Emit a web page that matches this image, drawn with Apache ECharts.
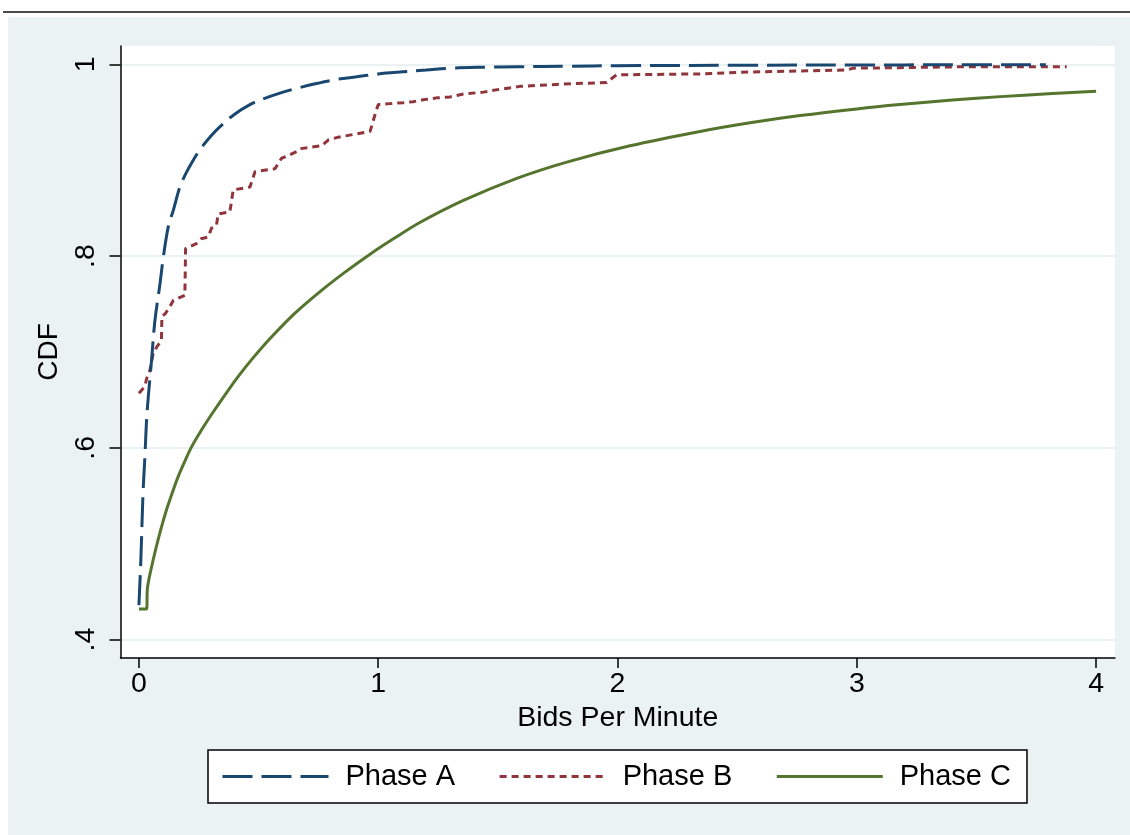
<!DOCTYPE html>
<html>
<head>
<meta charset="utf-8">
<script src="https://cdn.jsdelivr.net/npm/echarts@6/dist/echarts.min.js"></script>
<style>
  html, body { margin: 0; padding: 0; background: #fff; }
  #wrap { position: relative; width: 1130px; height: 835px; overflow: hidden; }
  #rule { position: absolute; left: 3px; right: 0; top: 11px; border-top: 2px solid #4a4a4a; }
  #panel { position: absolute; left: 8px; top: 17px; right: 0; bottom: 0; background: #eaf2f3; }
  #chart { position: absolute; left: 0; top: 0; width: 1130px; height: 835px; }
</style>
</head>
<body>
<div id="wrap">
  <div id="rule"></div>
  <div id="panel"></div>
  <div id="chart"></div>
</div>
<script>
// Tick values
const xTicks = [0, 1, 2, 3, 4];
const yTicks = [0.4, 0.6, 0.8, 1];
const yTickLabels = ['.4', '.6', '.8', '1'];

// Phase A: smooth CDF of bids per minute
const phaseA_x = [0.0, 0.008, 0.017, 0.025, 0.032, 0.039, 0.053, 0.067, 0.088, 0.102, 0.123, 0.144, 0.171, 0.20, 0.227, 0.255, 0.30, 0.339, 0.40, 0.464, 0.52, 0.589, 0.66, 0.742, 0.82, 0.909, 1.0, 1.091, 1.2, 1.3, 1.45, 1.579, 1.8, 1.996, 2.5, 3.0, 3.4, 3.79];
const phaseA_y = [0.436, 0.483, 0.552, 0.591, 0.629, 0.653, 0.692, 0.733, 0.771, 0.799, 0.831, 0.848, 0.872, 0.888, 0.900, 0.911, 0.925, 0.935, 0.948, 0.958, 0.964, 0.970, 0.975, 0.980, 0.984, 0.987, 0.990, 0.992, 0.994, 0.996, 0.997, 0.9975, 0.998, 0.9985, 0.999, 0.9993, 0.9995, 0.9996];

// Phase B: empirical (stepped) CDF
const phaseB_x = [0.0, 0.025, 0.032, 0.046, 0.06, 0.074, 0.094, 0.096, 0.11, 0.129, 0.144, 0.192, 0.195, 0.215, 0.24, 0.26, 0.29, 0.303, 0.324, 0.331, 0.38, 0.394, 0.464, 0.485, 0.568, 0.596, 0.617, 0.659, 0.673, 0.763, 0.791, 0.833, 0.944, 0.966, 0.986, 1.0, 1.049, 1.105, 1.146, 1.188, 1.244, 1.3, 1.356, 1.439, 1.509, 1.592, 1.662, 1.746, 1.83, 1.955, 1.969, 1.996, 2.345, 2.554, 2.763, 2.958, 2.986, 3.18, 3.458, 3.877];
const phaseB_y = [0.657, 0.664, 0.672, 0.681, 0.699, 0.705, 0.712, 0.737, 0.740, 0.747, 0.754, 0.759, 0.808, 0.810, 0.813, 0.818, 0.820, 0.829, 0.832, 0.844, 0.846, 0.869, 0.872, 0.888, 0.891, 0.902, 0.904, 0.909, 0.912, 0.915, 0.921, 0.924, 0.929, 0.930, 0.947, 0.958, 0.959, 0.960, 0.961, 0.963, 0.965, 0.966, 0.969, 0.971, 0.974, 0.977, 0.978, 0.979, 0.980, 0.981, 0.984, 0.989, 0.990, 0.992, 0.993, 0.994, 0.996, 0.9965, 0.9975, 0.9975];

// Phase C: smooth CDF (flat start, then a steady concave rise)
const phaseC_x = [0.0, 0.032, 0.035, 0.041, 0.053, 0.066, 0.081, 0.097, 0.116, 0.139, 0.164, 0.19, 0.22, 0.26, 0.304, 0.373, 0.42, 0.471, 0.548, 0.65, 0.757, 0.86, 0.966, 1.07, 1.174, 1.356, 1.579, 1.788, 2.052, 2.345, 2.554, 2.763, 3.0, 3.18, 3.4, 3.6, 3.8, 4.0];
const phaseC_y = [0.432, 0.432, 0.452, 0.462, 0.476, 0.490, 0.505, 0.520, 0.536, 0.553, 0.570, 0.585, 0.601, 0.618, 0.635, 0.660, 0.676, 0.692, 0.714, 0.740, 0.763, 0.783, 0.802, 0.819, 0.835, 0.858, 0.881, 0.898, 0.915, 0.930, 0.939, 0.9465, 0.9535, 0.958, 0.9627, 0.9663, 0.9693, 0.972];

const seriesNames = ['Phase A', 'Phase B', 'Phase C'];
const colors = ['#1a476f', '#90353b', '#55752f'];

const zip = (xs, ys) => xs.map((x, i) => [x, ys[i]]);

const FONT = "'Liberation Sans', Arial, sans-serif";

const chart = echarts.init(document.getElementById('chart'), null, { renderer: 'canvas' });

chart.setOption({
  backgroundColor: 'transparent',
  animation: false,
  textStyle: { fontFamily: FONT },
  grid: {
    left: 120.5, right: 15, top: 46, bottom: 177,
    show: true, backgroundColor: '#ffffff', borderWidth: 0
  },
  xAxis: {
    type: 'value',
    min: -0.077, max: 4.079,
    name: 'Bids Per Minute',
    nameLocation: 'middle',
    nameGap: 43,
    nameTextStyle: { fontSize: 28.5, color: '#000', fontFamily: FONT },
    axisLine: { show: true, onZero: false, lineStyle: { color: '#000', width: 1.5 } },
    axisTick: { show: true, length: 10, lineStyle: { color: '#000', width: 1.5 }, customValues: xTicks },
    axisLabel: { show: true, margin: 12, fontSize: 28.5, color: '#000', fontFamily: FONT, customValues: xTicks,
                 formatter: v => String(v) },
    splitLine: { show: false }
  },
  yAxis: {
    type: 'value',
    min: 0.3808, max: 1.0191,
    name: 'CDF',
    nameLocation: 'middle',
    nameGap: 54,
    nameTextStyle: { fontSize: 28, color: '#000', fontFamily: FONT },
    axisLine: { show: true, onZero: false, lineStyle: { color: '#000', width: 1.5 } },
    axisTick: { show: true, length: 11, lineStyle: { color: '#000', width: 1.5 }, customValues: yTicks },
    axisLabel: {
      show: true, margin: 20, rotate: 90, fontSize: 28.5, color: '#000', fontFamily: FONT,
      customValues: yTicks,
      formatter: v => { const i = yTicks.findIndex(t => Math.abs(t - v) < 1e-6); return i >= 0 ? yTickLabels[i] : ''; }
    },
    splitLine: { show: true, lineStyle: { color: '#eaf2f3', width: 2 } }
  },
  legend: {
    show: true,
    left: 208, top: 750,
    orient: 'horizontal',
    borderColor: '#000', borderWidth: 1.5, borderRadius: 0,
    backgroundColor: '#fff',
    padding: [12, 16, 12, 13],
    itemWidth: 106, itemHeight: 14, itemGap: 43,
    itemStyle: { opacity: 0 },
    lineStyle: { width: 3 },
    textStyle: { fontSize: 29, color: '#000', fontFamily: FONT, padding: [0, 0, 0, 12] },
    data: seriesNames
  },
  series: [
    {
      name: seriesNames[0], type: 'line', symbol: 'none', smooth: 0.35,
      data: zip(phaseA_x, phaseA_y),
      lineStyle: { color: colors[0], width: 3, type: [30, 9], cap: 'butt' },
      itemStyle: { color: colors[0] }, z: 4
    },
    {
      name: seriesNames[1], type: 'line', symbol: 'none', smooth: false,
      data: zip(phaseB_x, phaseB_y),
      lineStyle: { color: colors[1], width: 3, type: [7, 5], cap: 'butt' },
      itemStyle: { color: colors[1] }, z: 3
    },
    {
      name: seriesNames[2], type: 'line', symbol: 'none', smooth: 0.35,
      data: zip(phaseC_x, phaseC_y),
      lineStyle: { color: colors[2], width: 3, type: 'solid' },
      itemStyle: { color: colors[2] }, z: 2
    }
  ]
});
</script>
</body>
</html>
